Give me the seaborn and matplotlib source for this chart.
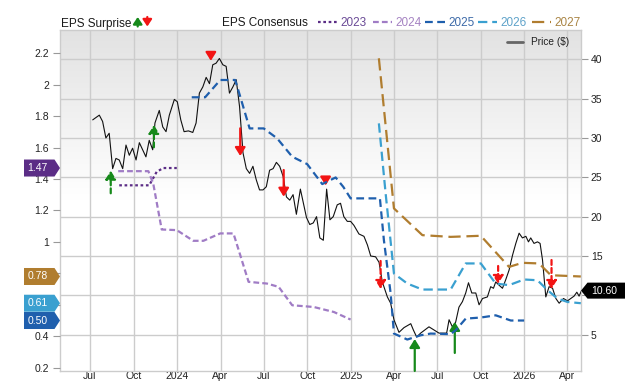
import numpy as np
import pandas as pd
import matplotlib
matplotlib.use("Agg")
import matplotlib.pyplot as plt
import matplotlib.dates as mdates
from matplotlib.patches import Polygon
from matplotlib.lines import Line2D
from matplotlib.transforms import IdentityTransform
from matplotlib.colors import LinearSegmentedColormap
from matplotlib.ticker import FuncFormatter
import seaborn as sns

# ---------------- data (time as decimal years) ----------------
price_t = [2023.512, 2023.550, 2023.569, 2023.588, 2023.607, 2023.627, 2023.646, 2023.665, 2023.685, 2023.704,
           2023.723, 2023.742, 2023.762, 2023.781, 2023.800, 2023.819, 2023.838, 2023.858, 2023.871, 2023.896,
           2023.916, 2023.935, 2023.954, 2023.983, 2024.000, 2024.020, 2024.039, 2024.064, 2024.089, 2024.108,
           2024.127, 2024.147, 2024.166, 2024.185, 2024.204, 2024.223, 2024.242, 2024.262, 2024.281, 2024.300,
           2024.320, 2024.339, 2024.358, 2024.378, 2024.397, 2024.416, 2024.435, 2024.454, 2024.473, 2024.493,
           2024.512, 2024.531, 2024.551, 2024.570, 2024.589, 2024.609, 2024.628, 2024.647, 2024.666, 2024.685,
           2024.708, 2024.743, 2024.762, 2024.782, 2024.801, 2024.820, 2024.840, 2024.859, 2024.878, 2024.897,
           2024.920, 2024.939, 2024.958, 2024.978, 2024.997, 2025.016, 2025.045, 2025.074, 2025.094, 2025.113,
           2025.141, 2025.161, 2025.180, 2025.209, 2025.228, 2025.247, 2025.276, 2025.305, 2025.344, 2025.359,
           2025.378, 2025.401, 2025.449, 2025.478, 2025.507, 2025.551, 2025.565, 2025.584, 2025.603, 2025.622,
           2025.642, 2025.661, 2025.677, 2025.696, 2025.719, 2025.738, 2025.758, 2025.786, 2025.805, 2025.821,
           2025.834, 2025.853, 2025.873, 2025.892, 2025.911, 2025.931, 2025.950, 2025.969, 2025.988, 2026.008,
           2026.023, 2026.036, 2026.055, 2026.075, 2026.090, 2026.104, 2026.123, 2026.142, 2026.162, 2026.181,
           2026.200, 2026.225, 2026.248, 2026.267, 2026.286, 2026.302, 2026.315, 2026.329]
price_v = [32.3, 32.9, 32.1, 30.0, 30.6, 26.1, 27.4, 27.2, 26.1, 29.1,
           27.8, 28.7, 27.2, 29.4, 28.5, 27.6, 29.7, 28.5, 31.9, 33.5,
           31.4, 30.8, 32.9, 34.9, 34.6, 32.3, 30.8, 30.9, 30.7, 31.9,
           35.7, 36.5, 37.7, 36.9, 39.3, 39.5, 40.1, 39.3, 39.1, 35.7,
           36.5, 37.4, 34.0, 28.1, 26.1, 25.5, 26.4, 24.7, 23.4, 23.4,
           23.8, 25.9, 26.1, 26.9, 26.4, 25.1, 22.5, 22.1, 22.8, 20.3,
           23.5, 19.9, 19.0, 19.2, 20.0, 17.3, 17.0, 23.5, 19.6, 20.0,
           21.5, 21.7, 20.0, 19.4, 19.4, 18.9, 17.8, 17.5, 16.4, 15.0,
           14.9, 14.2, 11.7, 9.8, 9.0, 6.9, 5.3, 5.9, 6.4, 5.6,
           4.7, 5.2, 6.0, 5.6, 5.2, 5.2, 6.9, 6.0, 6.6, 8.5,
           9.2, 10.3, 11.6, 10.3, 10.3, 8.8, 9.6, 9.8, 11.1, 10.9,
           11.7, 11.3, 10.9, 12.0, 13.2, 15.1, 16.6, 17.9, 17.3, 17.5,
           16.8, 17.3, 16.6, 16.8, 16.6, 14.5, 9.8, 11.1, 10.9, 9.6,
           9.0, 9.6, 9.3, 9.6, 9.9, 10.4, 9.9, 10.60]

eps2023_t = [2023.665, 2023.838, 2023.881, 2023.919, 2023.997]
eps2023_v = [1.36, 1.36, 1.446, 1.47, 1.47]

eps2024_t = [2023.659, 2023.833, 2023.861, 2023.910, 2023.997, 2024.092, 2024.150, 2024.247, 2024.323,
             2024.410, 2024.516, 2024.583, 2024.661, 2024.785, 2024.901, 2024.997]
eps2024_v = [1.45, 1.45, 1.372, 1.079, 1.075, 1.007, 1.007, 1.054, 1.054,
             0.746, 0.735, 0.714, 0.597, 0.586, 0.554, 0.506]

eps2025_t = [2024.083, 2024.160, 2024.247, 2024.333, 2024.362, 2024.416, 2024.497, 2024.574, 2024.661,
             2024.747, 2024.834, 2024.911, 2024.955, 2024.997, 2025.166, 2025.189, 2025.228, 2025.247,
             2025.324, 2025.401, 2025.459, 2025.574, 2025.603, 2025.661, 2025.748, 2025.834, 2025.921, 2025.998]
eps2025_v = [1.92, 1.92, 2.03, 2.03, 1.924, 1.722, 1.722, 1.659, 1.542,
             1.495, 1.368, 1.41, 1.35, 1.277, 1.277, 1.011, 0.672, 0.417,
             0.379, 0.406, 0.417, 0.413, 0.438, 0.512, 0.519, 0.533, 0.50, 0.50]

eps2026_t = [2025.160, 2025.199, 2025.247, 2025.324, 2025.411, 2025.574, 2025.661, 2025.748, 2025.834,
             2025.911, 2025.998, 2026.075, 2026.133, 2026.190, 2026.248, 2026.325]
eps2026_v = [1.754, 1.308, 0.799, 0.735, 0.697, 0.697, 0.863, 0.863, 0.735,
             0.725, 0.761, 0.756, 0.693, 0.64, 0.618, 0.61]

eps2027_t = [2025.160, 2025.247, 2025.411, 2025.574, 2025.748, 2025.911, 2025.988, 2026.084, 2026.152, 2026.325]
eps2027_v = [2.168, 1.213, 1.043, 1.032, 1.039, 0.841, 0.867, 0.863, 0.788, 0.78]

# EPS surprise arrows: time, tail price, head price, beat/miss, dashed
surp_t = [2023.616, 2023.865, 2024.193, 2024.362, 2024.612, 2024.853, 2025.170, 2025.367, 2025.598, 2025.848, 2026.156]
surp_tail = [22.97, 28.82, 40.6, 31.23, 25.93, 24.85, 14.37, 0.39, 2.68, 13.73, 14.49]
surp_head = [25.84, 31.65, 39.8, 27.71, 22.54, 23.96, 10.81, 4.45, 6.62, 11.45, 10.81]
surp_beat = [True, True, False, False, False, False, False, True, True, False, False]
surp_dashed = [True, True, False, False, False, False, True, False, False, True, True]

series_years = ["2023", "2024", "2025", "2026", "2027"]
series_colors = ["#5b2d86", "#a07cc5", "#1f5fad", "#3aa0d0", "#b07d2f"]
label_colors = ["#6a4a96", "#a583c2", "#3d6aa8", "#5ea2c9", "#a98444"]
series_dash = [(0, (1.2, 1.2)), (0, (2.6, 1.4)), (0, (3.5, 2.0)), (0, (4.2, 2.2)), (0, (5.5, 2.6))]

x_start, x_end = "2023-04-29", "2026-04-30"
left_ticks = [0.2, 0.4, 0.6, 0.8, 1.0, 1.2, 1.4, 1.6, 1.8, 2.0, 2.2]
right_ticks = [5, 10, 15, 20, 25, 30, 35, 40]


def to_dt(years):
    out = []
    for y in years:
        yr = int(np.floor(y))
        start = pd.Timestamp(year=yr, month=1, day=1)
        ndays = (pd.Timestamp(year=yr + 1, month=1, day=1) - start).days
        out.append(start + pd.Timedelta(days=(y - yr) * ndays))
    return pd.to_datetime(out)


sns.set_theme(style="white")
plt.rcParams["font.family"] = ["Liberation Sans", "DejaVu Sans"]

W, H = 640, 382
fig = plt.figure(figsize=(W / 100, H / 100), dpi=100)
L, R, T, B = 60, 581, 30, 370.5
ax = fig.add_axes([L / W, (H - B) / H, (R - L) / W, (B - T) / H])
ax2 = ax.twinx()

# price (right axis, on the lower axes)
price_df = pd.DataFrame({"date": to_dt(price_t), "price": price_v})
sns.lineplot(data=price_df, x="date", y="price", ax=ax, color="#111111", lw=0.8, zorder=3)

# surprise arrows
for t, a, b, beat, dashed in zip(surp_t, surp_tail, surp_head, surp_beat, surp_dashed):
    xd = mdates.date2num(to_dt([t])[0])
    col = "#16891a" if beat else "#f21414"
    ax.annotate("", xy=(xd, b), xytext=(xd, a),
                arrowprops=dict(arrowstyle="-|>,head_length=0.45,head_width=0.28", color=col, lw=1.6,
                                ls=(0, (2.2, 1.4)) if dashed else "-", shrinkA=0, shrinkB=0,
                                mutation_scale=11),
                zorder=4)

# EPS consensus lines (left axis)
eps_t = [eps2023_t, eps2024_t, eps2025_t, eps2026_t, eps2027_t]
eps_v = [eps2023_v, eps2024_v, eps2025_v, eps2026_v, eps2027_v]
for yrs, tt, vv, c, ds in zip(series_years, eps_t, eps_v, series_colors, series_dash):
    d = pd.DataFrame({"date": to_dt(tt), "eps": vv})
    sns.lineplot(data=d, x="date", y="eps", ax=ax2, color=c, lw=1.6, linestyle=ds, legend=False)

# background gradient
grad = np.clip(np.linspace(0, 1, 200) / 0.5, 0, 1)[:, None]
cmap = LinearSegmentedColormap.from_list("bg", ["#e2e2e2", "#ffffff"])
ax.imshow(grad, cmap=cmap, extent=(0, 1, 0, 1), transform=ax.transAxes, aspect="auto", zorder=-10,
          vmin=0, vmax=1)

# limits
ax.set_xlim(pd.Timestamp(x_start), pd.Timestamp(x_end))
ax.set_ylim(0.45, 43.72)
ax2.set_ylim(0.182, 2.348)

# badges values (hide tick labels covered by badges, as in the original)
badge_vals = [eps2023_v[-1], eps2027_v[-1], eps2026_v[-1], eps2025_v[-1]]
hidden_left = [0.6, 0.8]
hidden_right = [10]

# axes styling
ax.xaxis.set_major_locator(mdates.MonthLocator(bymonth=[1, 4, 7, 10]))
ax.xaxis.set_major_formatter(FuncFormatter(
    lambda v, p: mdates.num2date(v).strftime("%Y") if mdates.num2date(v).month == 1 else mdates.num2date(v).strftime("%b")))
ax.yaxis.tick_right()
ax.set_yticks(right_ticks)
ax.yaxis.set_major_formatter(FuncFormatter(lambda v, p: "" if round(v, 2) in hidden_right else f"{v:g}"))
ax2.yaxis.tick_left()
ax2.set_yticks(left_ticks)
ax2.yaxis.set_major_formatter(FuncFormatter(lambda v, p: "" if round(v, 2) in hidden_left else f"{round(v, 2):g}"))

ax.grid(True, color="#cccccc", lw=1)
ax.set_axisbelow(True)
ax2.grid(False)
for s in ax.spines.values():
    s.set_color("#cccccc")
    s.set_linewidth(1)
for s in ax2.spines.values():
    s.set_visible(False)
ax.tick_params(axis="x", length=0, pad=0.5, labelsize=7.5, labelcolor="#222222")
ax.tick_params(axis="y", which="both", right=True, left=False, length=5, width=0.8, color="#999999",
               pad=2, labelsize=7.5, labelcolor="#222222")
ax2.tick_params(axis="y", left=True, right=False, length=5, width=0.8, color="#999999", pad=3,
                labelsize=7.5, labelcolor="#222222")
for a in (ax, ax2):
    a.set_xlabel("")
    a.set_ylabel("")

# ---------------- badges ----------------
ident = IdentityTransform()
badge_cols = [series_colors[0], series_colors[4], series_colors[3], series_colors[2]]
for v, c in zip(badge_vals, badge_cols):
    yc = ax2.transData.transform((0, v))[1]
    hh = 8.5
    poly = Polygon([(24, yc - hh), (54.5, yc - hh), (60, yc), (54.5, yc + hh), (24, yc + hh)],
                   closed=True, facecolor=c, edgecolor="none", transform=ident, zorder=10)
    fig.add_artist(poly)
    fig.text(27.5, yc, f"{v:.2f}", color="white", fontsize=7.5, va="center", ha="left",
             transform=ident, zorder=11)

yc = ax.transData.transform((0, price_v[-1]))[1]
poly = Polygon([(581, yc), (587.5, yc + 8), (625, yc + 8), (625, yc - 8), (587.5, yc - 8)],
               closed=True, facecolor="black", edgecolor="none", transform=ident, zorder=10)
fig.add_artist(poly)
fig.text(604, yc, f"{price_v[-1]:.2f}", color="white", fontsize=7.5, va="center", ha="center",
         transform=ident, zorder=11)

# ---------------- top legend ----------------
base = H - 26.5
fig.text(60.7, base, "EPS Surprise", fontsize=8.5, color="#1a1a1a", va="baseline", ha="left", transform=ident)
ax.annotate("", xy=(137.7, H - 17.0), xytext=(137.7, H - 26.5), xycoords="figure pixels",
            arrowprops=dict(arrowstyle="-|>,head_length=0.45,head_width=0.3", color="#16891a", lw=1.6,
                            shrinkA=0, shrinkB=0, mutation_scale=9), annotation_clip=False)
ax.annotate("", xy=(147.3, H - 26.5), xytext=(147.3, H - 17.0), xycoords="figure pixels",
            arrowprops=dict(arrowstyle="-|>,head_length=0.45,head_width=0.3", color="#f21414", lw=1.6,
                            shrinkA=0, shrinkB=0, mutation_scale=9), annotation_clip=False)
fig.text(221.7, base, "EPS Consensus", fontsize=8.5, color="#1a1a1a", va="baseline", ha="left", transform=ident)
line_x = [(318, 337), (372.7, 391.7), (425, 445), (478, 497), (531.7, 551)]
for (x0, x1), yr, c, lc, ds in zip(line_x, series_years, series_colors, label_colors, series_dash):
    fig.add_artist(Line2D([x0, x1], [H - 21.7, H - 21.7], color=c, lw=1.6, linestyle=ds, transform=ident))
    fig.text(x1 + 3.5, base, yr, fontsize=8.5, color=lc, va="baseline", ha="left", transform=ident)

# price legend inside the plot
fig.add_artist(Line2D([507, 523], [H - 42, H - 42], color="#666666", lw=2, transform=ident, zorder=12))
fig.text(530.7, H - 42, "Price ($)", fontsize=7.3, color="#222222", va="center", ha="left", transform=ident,
         zorder=12)

fig.savefig("out.png", dpi=100)
